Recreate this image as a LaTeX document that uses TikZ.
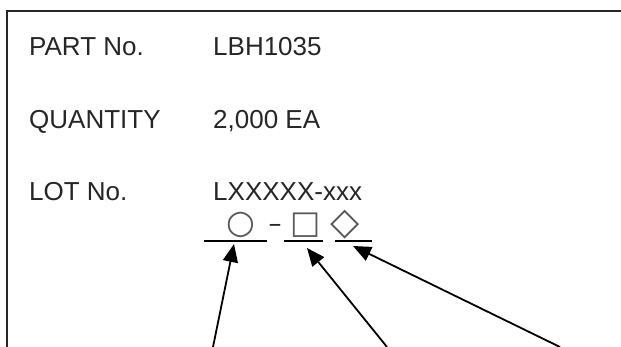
\documentclass[tikz,border=0pt]{standalone}
\usepackage{fontspec}
\setmainfont{Liberation Sans}
\newfontfamily\shapefont{DejaVu Sans}
\usetikzlibrary{arrows.meta, calc}
\newcommand{\pointer}[2]
{
	\draw[-{Triangle[length=18pt, width=15pt]}, line width=1.8pt] (#1) -- (#2)
}

\begin{document}
\begin{tikzpicture}[x=1pt, y=-1pt,
	every node/.append style={inner sep=0pt, anchor=base west, text=black!85},
	font=\fontsize{26}{31}\selectfont,
	symbolmark/.style={anchor=center, text=black!65, font=\shapefont\fontsize{#1}{#1}\selectfont}]

	\useasboundingbox (0,0) rectangle (621,347);
	\draw[line width=2pt, black!85] (7,347) |- (621,11);

	\node at (29, 56) (partlabel){PART No.};
	\node at (213, 56) (partvalue){LBH1035};
	\node at (29, 129) (qtylabel){QUANTITY};
	\node at (213, 129) (qtyvalue){2,000 EA};
	\node at (29, 201) (lotlabel){LOT No.};
	\node at (213, 201) (lotvalue){LXXXXX-xxx};

	\node[symbolmark=33] at (240.5, 225) (circ){○};
	\node[symbolmark=26, anchor=base, text=black!85] at (275, 232.5) (dash){–};
	\node[symbolmark=32] at (306, 225) (sq){□};
	\node[symbolmark=38] at (345, 225) (dia){◇};

	\coordinate (ua) at (204, 241);
	\coordinate (ub) at (267, 241);
	\coordinate (uc) at (284, 241);
	\coordinate (ud) at (323, 241);
	\coordinate (ue) at (335, 241);
	\coordinate (uf) at (372, 241);
	\draw[line width=2pt] (ua) -- (ub);
	\draw[line width=2pt] (uc) -- (ud);
	\draw[line width=2pt] (ue) -- (uf);

	\coordinate (ta) at (213, 347);
	\coordinate (tb) at (387, 347);
	\coordinate (tc) at (560, 347);
	\coordinate (ha) at (234, 244);
	\coordinate (hb) at (307, 248);
	\coordinate (hc) at (353, 246);
	\pointer{ta}{ha};
	\pointer{tb}{hb};
	\pointer{tc}{hc};
\end{tikzpicture}
\end{document}
